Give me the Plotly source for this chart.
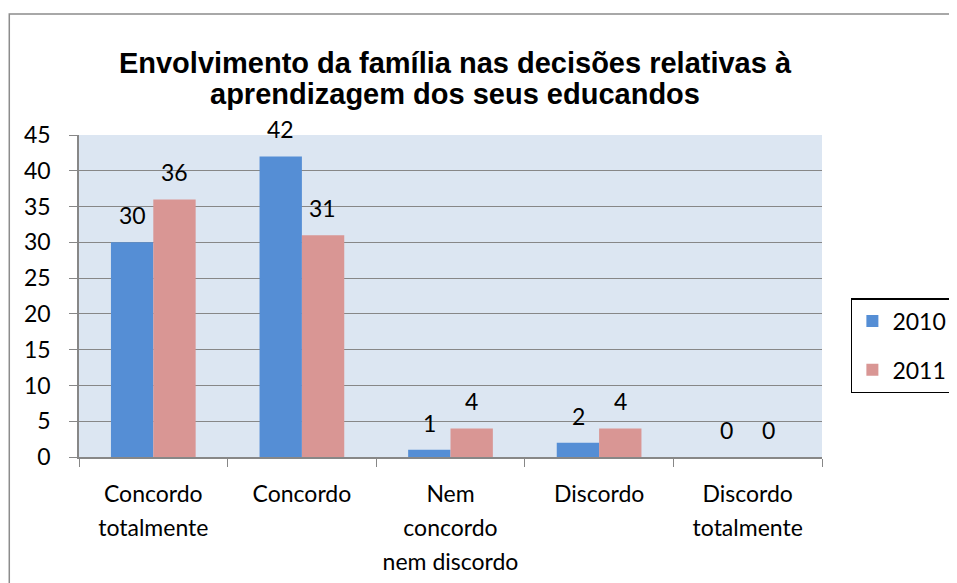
import plotly.graph_objects as go

# data
categories = ["Concordo totalmente", "Concordo", "Nem concordo nem discordo",
              "Discordo", "Discordo totalmente"]
tick_labels = [["Concordo", "totalmente"], ["Concordo"],
               ["Nem", "concordo", "nem discordo"], ["Discordo"],
               ["Discordo", "totalmente"]]
title_lines = ["Envolvimento da família nas decisões relativas à",
               "aprendizagem dos seus educandos"]
years = ["2010", "2011"]
values_2010 = [30, 42, 1, 2, 0]
values_2011 = [36, 31, 4, 4, 0]

BLUE = "#558ED5"
PINK = "#D99694"
GRID = "#878787"
FONT = "Lato"

# the page body adds an 8px margin, so layout numbers are 8px less than the target
L, T, W, H = 71, 127, 746, 322


def sized(line, size):
    return "<span style='font-size:%spx'>%s</span>" % (size, line)


fig = go.Figure()
for name, vals, col in [(years[0], values_2010, BLUE), (years[1], values_2011, PINK)]:
    fig.add_trace(go.Bar(
        x=categories, y=vals, name=name, legendgroup=name,
        marker=dict(color=col, line=dict(width=0)),
    ))

# data labels above each bar
for vals, shift in [(values_2010, -21), (values_2011, 21)]:
    for cat, v in zip(categories, vals):
        fig.add_annotation(x=cat, y=v, text=str(v), showarrow=False,
                           xshift=shift, yshift=27, yanchor="middle",
                           font=dict(family=FONT, size=23, color="black"))

fig.update_layout(
    width=957, height=583,
    margin=dict(l=L, r=957 - L - W, t=T, b=583 - T - H),
    paper_bgcolor="white", plot_bgcolor="#DCE6F2",
    font=dict(family=FONT, size=23, color="black"),
    title=dict(
        text="<br>".join(sized(s, 29) for s in title_lines),
        font=dict(family="Liberation Sans", size=23.5, color="black", weight="bold"),
        x=447 / 957, xanchor="center", xref="container",
        y=1 - 65 / 583, yanchor="top", yref="container",
    ),
    barmode="group", bargap=0.43, bargroupgap=0,
    showlegend=True,
    legend=dict(
        x=(846 - L) / W, xanchor="left", y=1 - (290 - T) / H, yanchor="top",
        bordercolor="black", borderwidth=1.5, bgcolor="white",
        font=dict(family=FONT, size=23), tracegroupgap=16,
    ),
    shapes=[dict(type="rect", xref="paper", yref="paper",
                 x0=(1 - L) / W, x1=1.3, y0=-0.6, y1=1 + (T - 6) / H,
                 line=dict(color="#8C8C8C", width=1.5), layer="below")],
)

fig.update_xaxes(
    type="category", tickson="boundaries", ticks="outside", ticklen=8,
    tickcolor=GRID, showline=True, linecolor=GRID, linewidth=1.5,
    tickvals=categories,
    ticktext=["<br>".join(sized(s, 23) for s in lines) for lines in tick_labels],
    tickfont=dict(family=FONT, size=26), ticklabelstandoff=12,
    automargin=False,
)
fig.update_yaxes(
    range=[0, 45], dtick=5, showgrid=True, gridcolor=GRID, gridwidth=1,
    showline=True, linecolor=GRID, linewidth=1.5, ticks="outside",
    ticklen=8, tickcolor=GRID, ticklabelstandoff=14,
    tickfont=dict(family=FONT, size=23), zeroline=False, automargin=False,
)

fig.write_html("out.html")
